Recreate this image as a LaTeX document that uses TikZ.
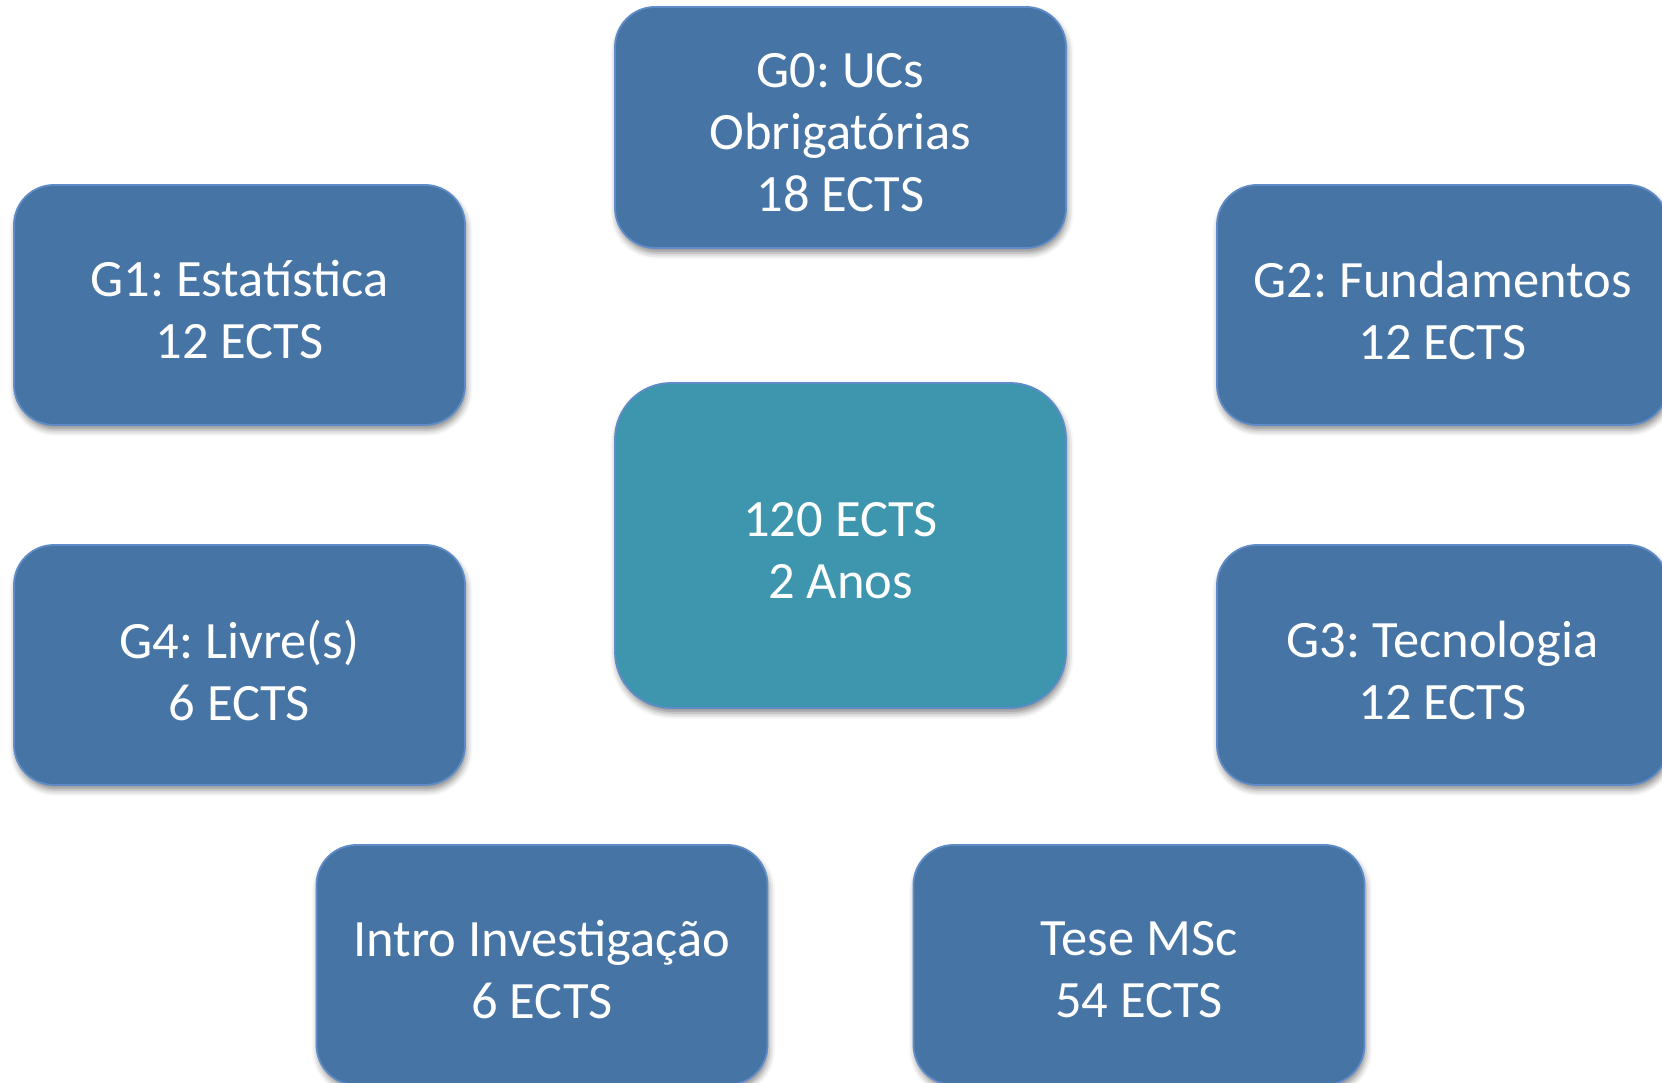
\documentclass[tikz,border=0pt]{standalone}
\usepackage{fontspec}
\setmainfont{Carlito}
\usetikzlibrary{shadows.blur}
\frenchspacing
\definecolor{boxblue}{RGB}{70,116,164}
\definecolor{boxteal}{RGB}{61,150,174}
\definecolor{boxedge}{RGB}{95,140,200}
\tikzset{
  grp/.style={draw=boxedge, line width=1.8pt, fill=boxblue,
    rounded corners=40pt, minimum width=451pt, minimum height=240pt,
    inner sep=0pt,
    blur shadow={shadow xshift=1.5pt, shadow yshift=-5pt, shadow blur radius=6pt, shadow opacity=45}},
  hub/.style={grp, fill=boxteal, rounded corners=56pt, minimum height=325pt},
  lbl/.style={text=white, align=center, inner sep=0pt,
    font=\fontsize{52.5}{62}\selectfont}
}
\begin{document}
\begin{tikzpicture}[x=1pt,y=1pt]
\useasboundingbox (0,0) rectangle (1662,1083);
\clip (0,0) rectangle (1662,1083);
\node[grp, minimum height=241pt] (g0) at (840.5,955.5) {};
\node[grp] (g1) at (239.5,778) {};
\node[grp] (g2) at (1442.5,778) {};
\node[hub] (c) at (840.5,537.5) {};
\node[grp] (g4) at (239.5,418) {};
\node[grp] (g3) at (1442.5,418) {};
\node[grp] (intro) at (542,118) {};
\node[grp] (tese) at (1139,118) {};
\node[lbl] (g0t) at ([yshift=-5pt]g0.center) {G0: UCs\\Obrigatórias\\18 ECTS};
\node[lbl] (g1t) at ([yshift=-5pt]g1.center) {G1: Estatística\\12 ECTS};
\node[lbl] (g2t) at ([yshift=-5pt]g2.center) {G2: Fundamentos\\12 ECTS};
\node[lbl] (ct) at ([yshift=-5pt]c.center) {120 ECTS\\2 Anos};
\node[lbl] (g4t) at ([yshift=-5pt]g4.center) {G4: Livre(s)\\6 ECTS};
\node[lbl] (g3t) at ([yshift=-5pt]g3.center) {G3: Tecnologia\\12 ECTS};
\node[lbl] (introt) at ([yshift=-5pt]intro.center) {Intro Investigação\\6 ECTS};
\node[lbl] (teset) at ([yshift=-5pt]tese.center) {Tese MSc\\54 ECTS};
\end{tikzpicture}
\end{document}
